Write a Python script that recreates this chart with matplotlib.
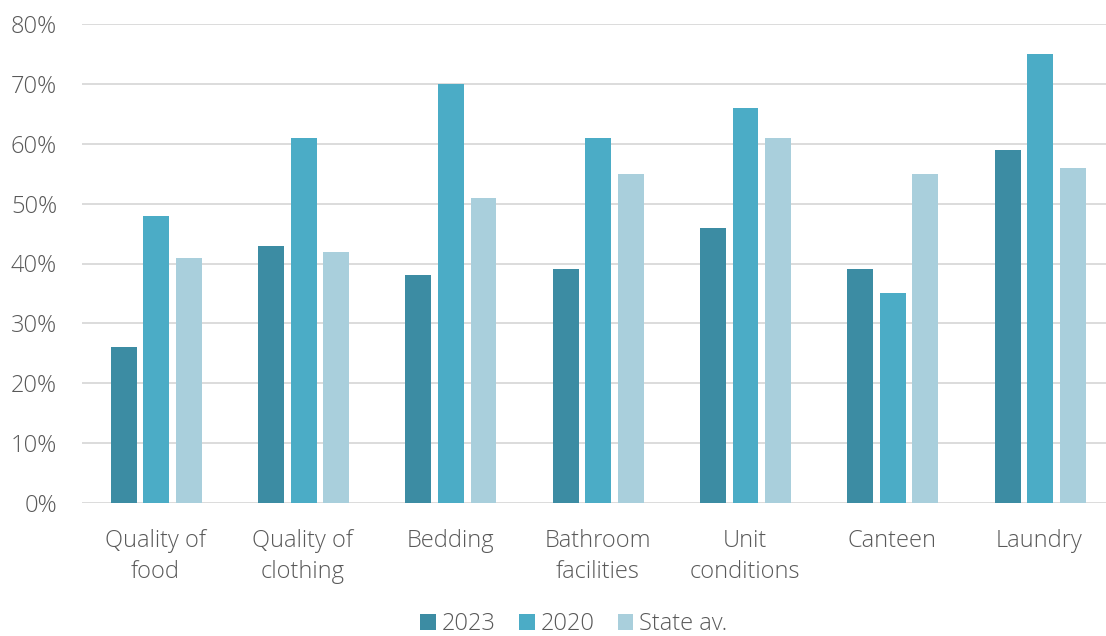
import matplotlib
matplotlib.use("Agg")
import matplotlib.pyplot as plt
import numpy as np
from matplotlib.ticker import FuncFormatter

categories = ["Quality of\nfood", "Quality of\nclothing", "Bedding", "Bathroom\nfacilities",
              "Unit\nconditions", "Canteen", "Laundry"]
series_names = ["2023", "2020", "State av."]
v2023 = [26, 43, 38, 39, 46, 39, 59]
v2020 = [48, 61, 70, 61, 66, 35, 75]
vstate = [41, 42, 51, 55, 61, 55, 56]
colors = ["#3C8CA3", "#4BACC6", "#A9CFDC"]

plt.rcParams['font.family'] = ['Open Sans', 'DejaVu Sans']
plt.rcParams['font.weight'] = 'light'

fig = plt.figure(figsize=(11.06, 6.36), dpi=100)
W, H = 1106, 636
left, right, top, bottom = 82, 1113, 24, 503
ax = fig.add_axes([left / W, 1 - bottom / H, (right - left) / W, (bottom - top) / H])

x = np.arange(len(categories))
bw = 0.176
step = 0.221
for i, (vals, c, name) in enumerate(zip([v2023, v2020, vstate], colors, series_names)):
    ax.bar(x + (i - 1) * step + 0.005, vals, width=bw, color=c, label=name, zorder=3)

ax.set_xlim(-0.5, len(categories) - 0.5)
ax.set_ylim(0, 80)
ax.set_yticks(range(0, 81, 10))
ax.yaxis.set_major_formatter(FuncFormatter(lambda v, p: f"{int(v)}%"))
ax.grid(axis='y', color='#D9D9D9', linewidth=1.3, zorder=0)
for s in ax.spines.values():
    s.set_visible(False)
ax.tick_params(axis='both', length=0, labelsize=17, colors='#595959')
ax.tick_params(axis='y', pad=18)
ax.tick_params(axis='x', pad=18.5)
ax.set_xticks(x)
ax.set_xticklabels(categories, linespacing=1.4)

leg = fig.legend(loc='center', bbox_to_anchor=(574 / W, 1 - 624 / H), ncol=3, frameon=False,
                 fontsize=17, handlelength=0.65, handleheight=0.65, handletextpad=0.25,
                 columnspacing=1.0, borderpad=0, borderaxespad=0)
for t in leg.get_texts():
    t.set_color('#595959')

fig.savefig("out.png", dpi=100)
